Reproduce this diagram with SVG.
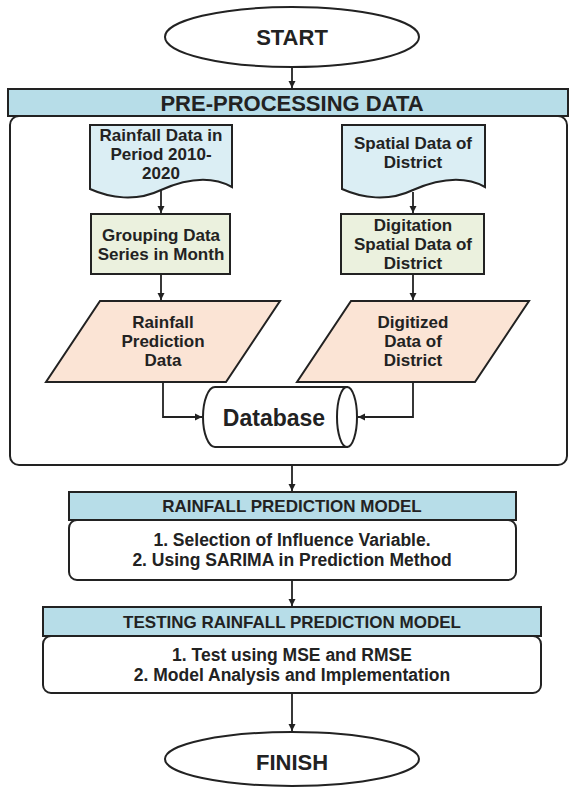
<svg xmlns="http://www.w3.org/2000/svg" width="569" height="787" viewBox="0 0 569 787">
<style>
text{font-family:"Liberation Sans",Arial,sans-serif;font-weight:700;fill:#222;text-anchor:middle}
.s{stroke:#222;stroke-width:2}
.hdr{fill:#b7dde8}
.doc{fill:#dbeef4}
.box{fill:#ebf1de}
.par{fill:#fbe4d5}
.w{fill:#fff}
.c{fill:none;stroke:#222;stroke-width:1.8}
.n{font-size:17px}
.b{font-size:17.5px}
.h{font-size:17px}
</style>
<defs>
<marker id="ah" markerWidth="8" markerHeight="8" refX="7" refY="4" orient="auto" markerUnits="userSpaceOnUse">
<path d="M0,0.5 L7,4 L0,7.5 Z" fill="#222"/>
</marker>
</defs>
<rect width="569" height="787" fill="#fff"/>

<g id="start">
<ellipse class="s w" cx="292" cy="37" rx="127" ry="30"/>
<text x="292" y="45" font-size="22">START</text>
</g>

<g id="preprocessing">
<rect class="s hdr" x="8" y="89" width="560" height="27"/>
<text x="292" y="111" font-size="22">PRE-PROCESSING DATA</text>
<rect class="s" fill="none" x="10" y="116" width="557" height="349" rx="9"/>
</g>

<g id="rainfall-data">
<path class="s doc" d="M90,125 H232 V187 C212,176 188,178 161,190 C136,202 110,198 90,189 Z"/>
<text class="n" x="161" y="141">Rainfall Data in</text>
<text class="n" x="161" y="160">Period 2010-</text>
<text class="n" x="161" y="179">2020</text>
</g>

<g id="spatial-data">
<path class="s doc" d="M342,125 H485 V187 C465,176 441,178 413,190 C388,202 362,198 342,189 Z"/>
<text class="n" x="413" y="149">Spatial Data of</text>
<text class="n" x="413" y="168">District</text>
</g>

<g id="grouping">
<rect class="s box" x="91" y="214" width="139" height="60"/>
<text class="n" x="161" y="241">Grouping Data</text>
<text class="n" x="161" y="260">Series in Month</text>
</g>

<g id="digitation">
<rect class="s box" x="341" y="214" width="143" height="60"/>
<text class="n" x="413" y="231">Digitation</text>
<text class="n" x="413" y="250">Spatial Data of</text>
<text class="n" x="413" y="269">District</text>
</g>

<g id="rainfall-prediction-data">
<polygon class="s par" points="100,301 280,301 226,382 46,382"/>
<text class="n" x="163" y="328">Rainfall</text>
<text class="n" x="163" y="347">Prediction</text>
<text class="n" x="163" y="366">Data</text>
</g>

<g id="digitized-data">
<polygon class="s par" points="351,301 529,301 475,382 297,382"/>
<text class="n" x="413" y="328">Digitized</text>
<text class="n" x="413" y="347">Data of</text>
<text class="n" x="413" y="366">District</text>
</g>

<g id="database">
<path class="s w" d="M215,387 H347 V447 H215 A12,30 0 0 1 215,387 Z"/>
<ellipse class="s w" cx="347" cy="417" rx="10" ry="30"/>
<text x="274" y="426" font-size="23">Database</text>
</g>

<g id="model">
<rect class="s hdr" x="69" y="492" width="447" height="28"/>
<text class="h" x="292" y="512">RAINFALL PREDICTION MODEL</text>
<rect class="s w" x="69" y="520" width="447" height="60" rx="8"/>
<text class="b" x="292" y="546">1. Selection of Influence Variable.</text>
<text class="b" x="292" y="566">2. Using SARIMA in Prediction Method</text>
</g>

<g id="testing">
<rect class="s hdr" x="43" y="607" width="498" height="29"/>
<text class="h" x="292" y="628">TESTING RAINFALL PREDICTION MODEL</text>
<rect class="s w" x="43" y="636" width="498" height="57" rx="8"/>
<text class="b" x="292" y="661">1. Test using MSE and RMSE</text>
<text class="b" x="292" y="681">2. Model Analysis and Implementation</text>
</g>

<g id="finish">
<ellipse class="s w" cx="292" cy="759" rx="127" ry="27"/>
<text x="292" y="770" font-size="22">FINISH</text>
</g>

<g id="connectors">
<path class="c" d="M292,67 V88" marker-end="url(#ah)"/>
<path class="c" d="M161,190 V213" marker-end="url(#ah)"/>
<path class="c" d="M413,192 V213" marker-end="url(#ah)"/>
<path class="c" d="M161,274 V300" marker-end="url(#ah)"/>
<path class="c" d="M413,274 V300" marker-end="url(#ah)"/>
<path class="c" d="M163,382 V417 H202" marker-end="url(#ah)"/>
<path class="c" d="M413,382 V417 H358" marker-end="url(#ah)"/>
<path class="c" d="M292,465 V491" marker-end="url(#ah)"/>
<path class="c" d="M292,580 V606" marker-end="url(#ah)"/>
<path class="c" d="M292,693 V731" marker-end="url(#ah)"/>
</g>
</svg>
